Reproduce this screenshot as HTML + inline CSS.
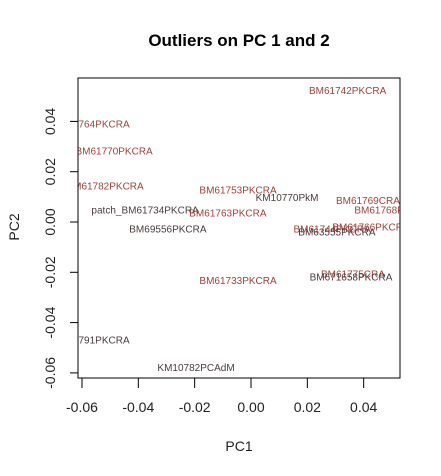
<!DOCTYPE html>
<html><head><meta charset="utf-8"><style>
html,body{margin:0;padding:0;background:#fff;}
svg{display:block;font-family:"Liberation Sans",Arial,sans-serif;}
</style></head><body>
<svg id="chart" width="441" height="476">
<text x="239" y="46" text-anchor="middle" font-size="17" font-weight="bold">Outliers on PC 1 and 2</text>
<defs><clipPath id="pc"><rect x="78" y="78" width="322" height="300"/></clipPath></defs>
<g id="xaxis"></g>
<g id="yaxis"></g>
<g id="labels" clip-path="url(#pc)"></g>
<rect x="78" y="78" width="322" height="300" fill="none" stroke="#000" stroke-width="1"/>
<text x="239" y="451" text-anchor="middle" font-size="14" fill="#222">PC1</text>
<text transform="translate(19,227) rotate(-90)" text-anchor="middle" font-size="14" fill="#222">PC2</text>
</svg>
<script>
const names = ["BM61742PKCRA","BM61764PKCRA","BM61770PKCRA","BM61782PKCRA","patch_BM61734PKCRA","BM69556PKCRA","BM61753PKCRA","KM10770PkM","BM61763PKCRA","BM61733PKCRA","BM61791PKCRA","KM10782PCAdM","BM61769CRA","BM61768PKCRA","BM61766PKCRA","BM61744PKCRA","BM63555PKCRA","BM61775CRA","BM671658PKCRA"];
const pc1 = [0.0343,-0.0568,-0.0486,-0.0518,-0.0376,-0.0295,-0.0046,0.0128,-0.0082,-0.0046,-0.0568,-0.0195,0.0415,0.0504,0.0426,0.0288,0.0305,0.0362,0.0355];
const pc2 = [0.0522,0.0390,0.0282,0.0144,0.0048,-0.0028,0.0127,0.0097,0.0036,-0.0233,-0.0469,-0.0579,0.0085,0.0048,-0.0019,-0.0028,-0.0039,-0.0207,-0.0219];
const outlier = [1,1,1,1,0,0,1,0,1,1,0,0,1,1,1,1,0,1,0];
const xTicks = [-0.06,-0.04,-0.02,0.00,0.02,0.04];
const yTicks = [-0.06,-0.04,-0.02,0.00,0.02,0.04];
const xTickLabels = ["-0.06","-0.04","-0.02","0.00","0.02","0.04"];
const yTickLabels = ["-0.06","-0.04","-0.02","0.00","0.02","0.04"];

const NS="http://www.w3.org/2000/svg";
function sx(v){return 251+v*2817;}
function sy(v){return 222-v*2515;}
function mk(tag,attrs,parent){const e=document.createElementNS(NS,tag);for(const k in attrs)e.setAttribute(k,attrs[k]);parent.appendChild(e);return e;}
const xa=document.getElementById('xaxis'),ya=document.getElementById('yaxis'),lg=document.getElementById('labels');
mk('line',{x1:sx(xTicks[0]),x2:sx(xTicks[xTicks.length-1]),y1:378,y2:378,stroke:'#000'},xa);
xTicks.forEach((t,i)=>{
  const l=mk('line',{x1:sx(t),x2:sx(t),y1:378,y2:388,stroke:'#000'},xa);
  
  
  const tx=mk('text',{x:sx(t),y:412,'text-anchor':'middle','font-size':'14',fill:'#222'},xa);
  tx.textContent=xTickLabels[i];
  
  
});
mk('line',{x1:78,x2:78,y1:sy(yTicks[0]),y2:sy(yTicks[yTicks.length-1]),stroke:'#000'},ya);
yTicks.forEach((t,i)=>{
  const l=mk('line',{x1:70,x2:78,y1:sy(t),y2:sy(t),stroke:'#000'},ya);
  
  
  const tx=mk('text',{transform:`translate(55,${sy(t)}) rotate(-90)`,'text-anchor':'middle','font-size':'14',fill:'#222'},ya);
  tx.textContent=yTickLabels[i];
  
  
});
names.forEach((n,i)=>{
  const t=mk('text',{x:sx(pc1[i]),y:sy(pc2[i])+3.5,'text-anchor':'middle','font-size':'10',fill:outlier[i]?'#a3403b':'#4a3c3c'},lg);
  t.textContent=n;
  
  
});
</script>
</body></html>
